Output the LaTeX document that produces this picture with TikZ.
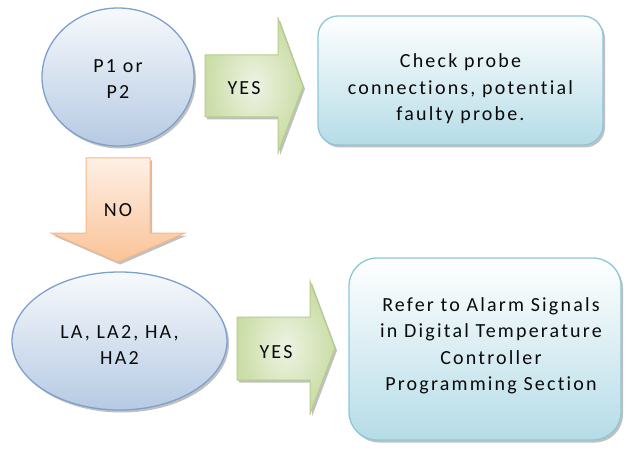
\documentclass[tikz,border=0pt]{standalone}
\usepackage{fontspec}
\setmainfont{Carlito}
\newfontfamily\calfont[LetterSpace=11,Ligatures={NoCommon}]{Carlito}
\usetikzlibrary{shapes.geometric,shadows}
\definecolor{txt}{HTML}{0A0A0A}
\definecolor{ellline}{HTML}{7EA0CC}
\definecolor{elltop}{HTML}{F7F9FC}
\definecolor{ellbot}{HTML}{B6CAE3}
\definecolor{grnline}{HTML}{B5CD88}
\definecolor{grnin}{HTML}{EEF3E4}
\definecolor{grnout}{HTML}{CADDA6}
\definecolor{orgline}{HTML}{F9B787}
\definecolor{orgtop}{HTML}{FEF0E6}
\definecolor{orgbot}{HTML}{FAC397}
\definecolor{boxline}{HTML}{8CC8D7}
\definecolor{boxtop}{HTML}{FFFFFF}
\definecolor{boxbot}{HTML}{B5DCE7}
\tikzset{
  shad/.style={drop shadow={shadow xshift=2pt,shadow yshift=-2.5pt,opacity=0.45,fill=black!55}},
  lbl/.style={font=\calfont\fontsize{20}{26.5}\selectfont,text=txt,align=center,inner sep=0pt},
  decision/.style={ellipse,draw=ellline,line width=1.3pt,top color=elltop,bottom color=ellbot,shad,inner sep=0pt},
  actionbox/.style={draw=boxline,line width=1.3pt,top color=boxtop,bottom color=boxbot,shad},
  yesarrow/.style={draw=grnline,line width=1pt,inner color=grnin,outer color=grnout,shad},
  noarrow/.style={draw=orgline,line width=1pt,top color=orgtop,bottom color=orgbot,shad},
}
\begin{document}
\begin{tikzpicture}[x=1pt,y=-1pt]
\useasboundingbox (0,0) rectangle (629,449);
% decisions
\node[decision,minimum width=152,minimum height=138] (d1) at (118,77) {};
\node[lbl] (t1) at (118,79) {P1 or\\P2};
\node[decision,minimum width=215,minimum height=138] (d2) at (119.5,341) {};
\node[lbl] (t2) at (119.5,345) {LA, LA2, HA,\\HA2};
% action boxes
\draw[actionbox,rounded corners=20pt] (318,16) rectangle (603,145);
\node[lbl] (b1) at (460.5,89) {Check probe\\connections, potential\\faulty probe.};
\draw[actionbox,rounded corners=28pt] (349,258) rectangle (621,440);
\node[lbl] (b2) at (491,346) {Refer to Alarm Signals\\in Digital Temperature\\Controller\\Programming Section};
% yes arrow 1
\draw[yesarrow] (205,55) -- (278,55) -- (278,18) -- (303,86.5) -- (278,153) -- (278,117) -- (205,117) -- cycle;
\node[lbl] (y1) at (244,88) {YES};
% yes arrow 2
\draw[yesarrow] (237,317) -- (310,317) -- (310,281) -- (335,348) -- (310,414) -- (310,380) -- (237,380) -- cycle;
\node[lbl] (y2) at (276,352) {YES};
% no arrow
\draw[noarrow] (86,158) -- (150,158) -- (150,233) -- (185,233) -- (118,262) -- (51,233) -- (86,233) -- cycle;
\node[lbl] (n1) at (118,210) {NO};
\end{tikzpicture}
\end{document}
